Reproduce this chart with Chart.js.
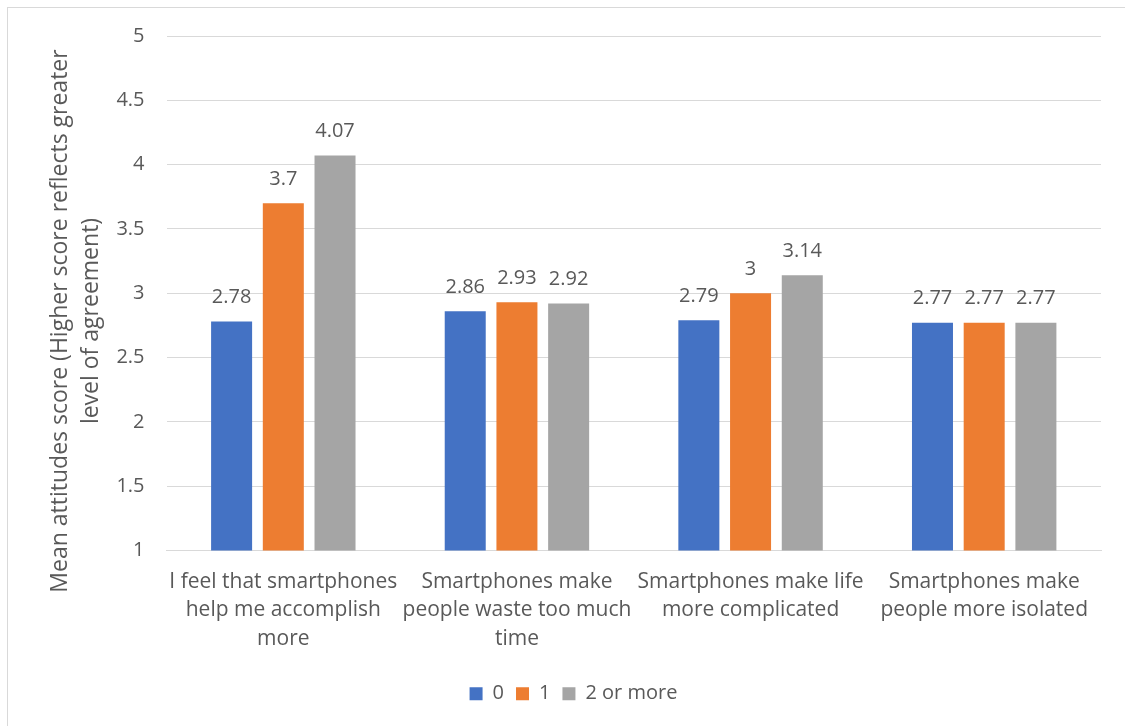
<!DOCTYPE html>
<html><head><meta charset="utf-8">
<script src="https://cdn.jsdelivr.net/npm/chart.js@4"></script>
<style>
html,body{margin:0;padding:0;background:#fff;overflow:hidden}
#wrap{position:relative;width:1125px;height:726px;overflow:hidden}
#frame{position:absolute;left:7px;top:7px;width:1300px;height:900px;border:1px solid #d9d9d9;box-sizing:border-box}
canvas{position:absolute;left:0;top:0}
</style></head><body>
<div id="wrap"><div id="frame"></div><canvas id="c" width="1125" height="726"></canvas></div>
<script>
const categories = [
  ['I feel that smartphones','help me accomplish','more'],
  ['Smartphones make','people waste too much','time'],
  ['Smartphones make life','more complicated'],
  ['Smartphones make','people more isolated']
];
const seriesNames = ['0', '1', '2 or more'];
const series0 = [2.78, 2.86, 2.79, 2.77];
const series1 = [3.7, 2.93, 3, 2.77];
const series2 = [4.07, 2.92, 3.14, 2.77];
const seriesColors = ['#4472C4', '#ED7D31', '#A5A5A5'];
const yMin = 1, yMax = 5, yStep = 0.5;
const yTitle = ['Mean attitudes score (Higher score reflects greater', 'level of agreement)'];

const FONT = "'Open Sans', sans-serif";
const TXT = '#595959';

const valueLabels = {
  id: 'valueLabels',
  afterDatasetsDraw(chart) {
    const ctx = chart.ctx;
    ctx.save();
    ctx.font = '20px ' + FONT;
    ctx.fillStyle = TXT;
    ctx.textAlign = 'center';
    ctx.textBaseline = 'alphabetic';
    chart.data.datasets.forEach((ds, i) => {
      chart.getDatasetMeta(i).data.forEach((bar, j) => {
        ctx.fillText(String(ds.data[j]), bar.x, bar.y - 18.5);
      });
    });
    ctx.restore();
  }
};

const yTitlePlugin = {
  id: 'yTitlePlugin',
  afterDraw(chart) {
    const ctx = chart.ctx;
    ctx.save();
    ctx.font = '23px ' + FONT;
    ctx.fillStyle = TXT;
    ctx.textAlign = 'center';
    ctx.textBaseline = 'alphabetic';
    ctx.translate(0, 321);
    ctx.rotate(-Math.PI / 2);
    const baselines = [66.5, 98];
    yTitle.forEach((t, k) => ctx.fillText(t, 0, baselines[k]));
    ctx.restore();
  }
};

new Chart(document.getElementById('c'), {
  type: 'bar',
  data: {
    labels: categories,
    datasets: [
      { label: seriesNames[0], data: series0, backgroundColor: seriesColors[0] },
      { label: seriesNames[1], data: series1, backgroundColor: seriesColors[1] },
      { label: seriesNames[2], data: series2, backgroundColor: seriesColors[2] }
    ]
  },
  options: {
    responsive: false,
    animation: false,
    devicePixelRatio: 1,
    categoryPercentage: 0.664,
    barPercentage: 0.793,
    layout: { padding: { left: 46, right: 24, top: 36, bottom: 12.3 } },
    plugins: {
      legend: {
        position: 'bottom',
        labels: { boxWidth: 13, boxHeight: 13, padding: 12, color: TXT, font: { family: FONT, size: 20 } }
      },
      tooltip: { enabled: false },
      title: { display: false }
    },
    scales: {
      x: {
        grid: { display: false, drawTicks: false },
        border: { display: true, color: '#d9d9d9', width: 1 },
        ticks: { color: TXT, padding: 17, maxRotation: 0, autoSkip: false, font: { family: FONT, size: 21, lineHeight: 1.36 } },
        afterFit(scale) { scale.height = 121.2; }
      },
      y: {
        min: yMin, max: yMax,
        grid: { color: '#d9d9d9', lineWidth: 1, drawTicks: false },
        border: { display: false },
        ticks: { stepSize: yStep, color: TXT, padding: 22, font: { family: FONT, size: 20 }, callback: v => String(v) },
        afterFit(scale) { scale.width = 120.5; }
      }
    }
  },
  plugins: [valueLabels, yTitlePlugin]
});
</script>
</body></html>
